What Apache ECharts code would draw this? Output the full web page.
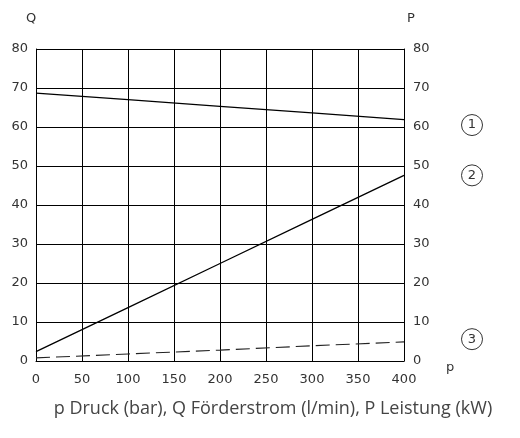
<!DOCTYPE html>
<html>
<head>
<meta charset="utf-8">
<script src="https://cdn.jsdelivr.net/npm/echarts@6/dist/echarts.min.js"></script>
<style>
  html,body{margin:0;padding:0;background:#fff}
  #chart{width:520px;height:438px}
</style>
</head>
<body>
<div id="chart"></div>
<script>
// Druck p (bar)
const pressure=[0,100,200,300,400]
// Kurve 1: Förderstrom Q (l/min)
const curve1=[68.7,67.0,65.3,63.6,61.9]
// Kurve 2: Leistung P (kW)
const curve2=[2.4,13.7,25.0,36.3,47.6]
// Kurve 3 (gestrichelt)
const curve3=[0.8,1.8,2.8,3.9,4.9]
const markers=[{label:'1',value:60.5},{label:'2',value:47.6},{label:'3',value:5.6}]

const chart=echarts.init(document.getElementById('chart'))
const font='DejaVu Sans'
const axisLabel={color:'#333',fontSize:13,fontFamily:font}
const toPairs=arr=>pressure.map((p,i)=>[p,arr[i]])

const option={
  animation:false,
  grid:{left:36,right:116,top:49,bottom:77},
  xAxis:{
    type:'value',min:0,max:400,interval:50,
    name:'p',nameLocation:'end',nameGap:42,
    nameTextStyle:{color:'#333',fontSize:13,fontFamily:font,verticalAlign:'top',padding:[0,0,0,0]},
    axisLine:{lineStyle:{color:'#000',width:1}},
    axisTick:{show:false},
    splitLine:{show:true,lineStyle:{color:'#000',width:1}},
    axisLabel:{...axisLabel,margin:12}
  },
  yAxis:[
    {
      type:'value',min:0,max:80,interval:10,position:'left',
      name:'Q',nameLocation:'end',nameGap:24,
      nameTextStyle:{color:'#333',fontSize:13,fontFamily:font,align:'center',padding:[0,0,0,-10]},
      axisLine:{show:true,lineStyle:{color:'#000',width:1}},
      axisTick:{show:false},
      splitLine:{show:true,lineStyle:{color:'#000',width:1}},
      axisLabel:{...axisLabel,margin:8}
    },
    {
      type:'value',min:0,max:80,interval:10,position:'right',
      name:'P',nameLocation:'end',nameGap:24,
      nameTextStyle:{color:'#333',fontSize:13,fontFamily:font,align:'center',padding:[0,0,0,14]},
      axisLine:{show:true,lineStyle:{color:'#000',width:1}},
      axisTick:{show:false},
      splitLine:{show:false},
      axisLabel:{...axisLabel,margin:9}
    }
  ],
  series:[
    {type:'line',data:toPairs(curve1),symbol:'none',lineStyle:{color:'#000',width:1.3}},
    {type:'line',data:toPairs(curve2),symbol:'none',lineStyle:{color:'#000',width:1.3}},
    {type:'line',data:toPairs(curve3),symbol:'none',lineStyle:{color:'#222',width:1.1,type:[14,6]}}
  ],
  graphic:[
    {type:'text',style:{text:'p Druck (bar), Q Förderstrom (l/min), P Leistung (kW)',fill:'#444',font:'18px "Open Sans"',x:273,y:409,textAlign:'center',textVerticalAlign:'middle'}}
  ]
}
chart.setOption(option)

// Kreis-Markierungen rechts neben der Achse
const g=option.graphic
markers.forEach(m=>{
  const y=chart.convertToPixel({yAxisIndex:1},m.value)
  g.push({type:'circle',shape:{cx:472,cy:y,r:10.5},style:{fill:'none',stroke:'#333',lineWidth:1}})
  g.push({type:'text',style:{text:m.label,x:472,y:y,textAlign:'center',textVerticalAlign:'middle',fill:'#333',font:'13px "DejaVu Sans"'}})
})
chart.setOption({graphic:g})
</script>
</body>
</html>
